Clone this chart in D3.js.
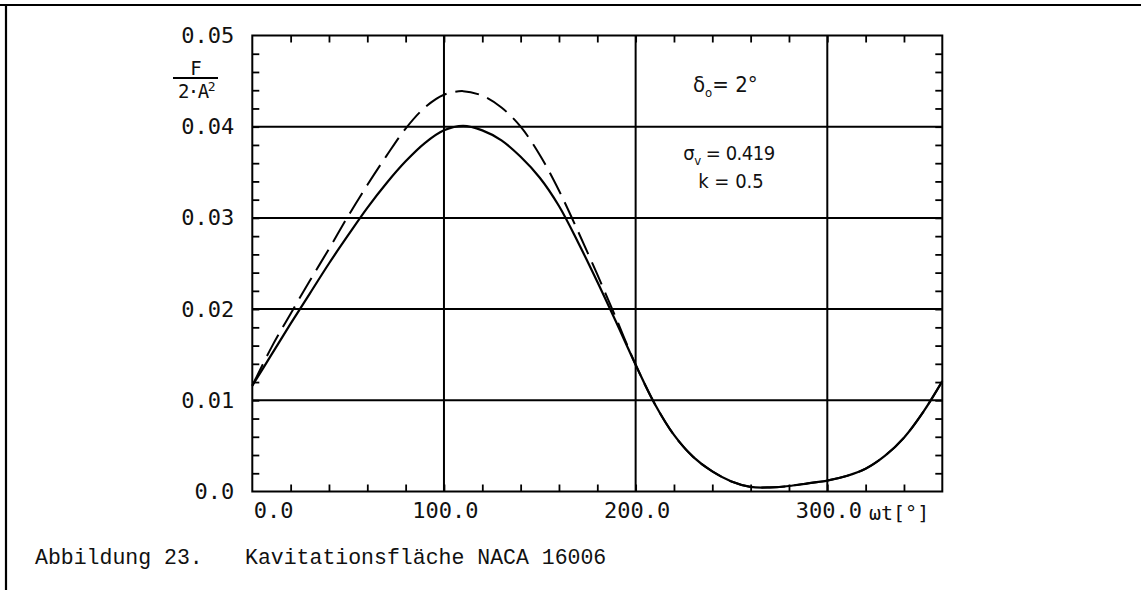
<!DOCTYPE html>
<html>
<head>
<meta charset="utf-8">
<script src="https://cdn.jsdelivr.net/npm/d3@7"></script>
<style>
  body { margin: 0; background: #fff; }
  svg { display: block; }
</style>
</head>
<body>
<svg width="1141" height="590"></svg>
<script>
// values (omega t in degrees, F/(2A^2))
var angle = [0, 10, 20, 30, 40, 50, 60, 70, 80, 90, 100, 110, 120, 130, 140, 150, 160, 170, 180, 190, 200, 210, 220, 230, 240, 250, 260, 270, 280, 290, 300, 310, 320, 330, 340, 350, 360];
var solidF = [0.0116, 0.0150, 0.0184, 0.0217, 0.0250, 0.0281, 0.0311, 0.0338, 0.0362, 0.0382, 0.0396, 0.0401, 0.0396, 0.0385, 0.0367, 0.0344, 0.0313, 0.0273, 0.0230, 0.0185, 0.0139, 0.0096, 0.0062, 0.0038, 0.0022, 0.0011, 0.0005, 0.00045, 0.0006, 0.0009, 0.0012, 0.0017, 0.0025, 0.0039, 0.0059, 0.0087, 0.0121];
var dashF = [0.0116, 0.0158, 0.0195, 0.0231, 0.0266, 0.0302, 0.0336, 0.0368, 0.0398, 0.0421, 0.0435, 0.0439, 0.0434, 0.0421, 0.0400, 0.0369, 0.0330, 0.0285, 0.0238, 0.0189, 0.0139, 0.0096, 0.0062, 0.0038, 0.0022, 0.0011, 0.0005, 0.00045, 0.0006, 0.0009, 0.0012, 0.0017, 0.0025, 0.0039, 0.0059, 0.0087, 0.0121];

var xTicks = [0, 100, 200, 300];
var xTickLabels = ["0.0", "100.0", "200.0", "300.0"];
var yTicks = [0, 0.01, 0.02, 0.03, 0.04, 0.05];
var yTickLabels = ["0.0", "0.01", "0.02", "0.03", "0.04", "0.05"];

(function () {
  var svg = d3.select("svg");
  var mono = "'DejaVu Sans Mono', monospace";
  var narrow = "'DejaVu Sans Condensed', 'Liberation Sans Narrow', 'DejaVu Sans', sans-serif";

  var pLeft = 252.3, pRight = 942.3, pTop = 35.5, pBottom = 491.5;

  var x = d3.scaleLinear().domain([0, 360]).range([pLeft, pRight]);
  var y = d3.scaleLinear().domain([0, 0.05]).range([pBottom, pTop]);

  // page frame
  svg.append("line").attr("x1", 0).attr("x2", 1141).attr("y1", 5).attr("y2", 5)
    .attr("stroke", "#000").attr("stroke-width", 2.2);
  svg.append("line").attr("x1", 6).attr("x2", 6).attr("y1", 4).attr("y2", 590)
    .attr("stroke", "#000").attr("stroke-width", 2.2);

  // grid
  var grid = svg.append("g").attr("stroke", "#000").attr("stroke-width", 2);
  grid.selectAll(".gy").data(yTicks.slice(1, -1)).enter().append("line")
    .attr("x1", pLeft).attr("x2", pRight)
    .attr("y1", function (d) { return y(d); }).attr("y2", function (d) { return y(d); });
  grid.selectAll(".gx").data(xTicks.slice(1)).enter().append("line")
    .attr("y1", pTop).attr("y2", pBottom)
    .attr("x1", function (d) { return x(d); }).attr("x2", function (d) { return x(d); });

  // minor ticks on all four sides, pointing inward
  var xMinor = d3.range(20, 360, 20);
  var yMinor = d3.range(1, 25).map(function (i) { return i * 0.002; });

  function tickOnly(axis, tr) {
    var g = svg.append("g").attr("transform", tr).call(axis);
    g.select(".domain").remove();
    g.selectAll("text").remove();
    g.selectAll("line").attr("stroke", "#000").attr("stroke-width", 1.8);
  }
  tickOnly(d3.axisBottom(x).tickValues(xMinor).tickSize(-7), "translate(0," + pBottom + ")");
  tickOnly(d3.axisTop(x).tickValues(xMinor).tickSize(-7), "translate(0," + pTop + ")");
  tickOnly(d3.axisLeft(y).tickValues(yMinor).tickSize(-7), "translate(" + pLeft + ",0)");
  tickOnly(d3.axisRight(y).tickValues(yMinor).tickSize(-7), "translate(" + pRight + ",0)");

  // frame of the plot
  svg.append("rect").attr("x", pLeft).attr("y", pTop)
    .attr("width", pRight - pLeft).attr("height", pBottom - pTop)
    .attr("fill", "none").attr("stroke", "#000").attr("stroke-width", 2);

  // tick labels
  var yAx = svg.append("g").attr("transform", "translate(" + pLeft + ",0)")
    .call(d3.axisLeft(y).tickValues(yTicks).tickSize(0).tickPadding(18)
      .tickFormat(function (d, i) { return yTickLabels[i]; }));
  yAx.select(".domain").remove();
  yAx.selectAll("text").attr("font-family", mono).attr("font-size", 22).attr("fill", "#111");

  var xAx = svg.append("g").attr("transform", "translate(0," + pBottom + ")")
    .call(d3.axisBottom(x).tickValues(xTicks).tickSize(0).tickPadding(11)
      .tickFormat(function (d, i) { return xTickLabels[i]; }));
  xAx.select(".domain").remove();
  xAx.selectAll("text").attr("font-family", mono).attr("font-size", 22).attr("fill", "#111");
  xAx.selectAll("text").filter(function (d) { return d === 0; })
    .attr("text-anchor", "start").attr("x", 1);
  xAx.selectAll("text").filter(function (d) { return d !== 0; }).attr("x", 1);

  svg.append("text").attr("x", 869).attr("y", 520)
    .attr("font-family", mono).attr("font-size", 20).attr("fill", "#111")
    .text("ωt[°]");

  // y axis quantity  F / (2·A²)
  svg.append("text").attr("x", 196).attr("y", 75).attr("text-anchor", "middle")
    .attr("font-family", mono).attr("font-size", 19).attr("fill", "#111").text("F");
  svg.append("line").attr("x1", 173).attr("x2", 218).attr("y1", 78).attr("y2", 78)
    .attr("stroke", "#000").attr("stroke-width", 1.8);
  var den = svg.append("text").attr("x", 196).attr("y", 98).attr("text-anchor", "middle")
    .attr("font-family", mono).attr("font-size", 19).attr("fill", "#111")
    .attr("letter-spacing", -1.5);
  den.append("tspan").text("2·A");
  den.append("tspan").attr("font-size", 13).attr("dy", -7).text("2");

  // curves
  var line = d3.line()
    .x(function (d) { return x(d[0]); })
    .y(function (d) { return y(d[1]); })
    .curve(d3.curveCatmullRom.alpha(0.5));

  svg.append("path")
    .datum(d3.zip(angle, dashF))
    .attr("d", line)
    .attr("fill", "none").attr("stroke", "#000").attr("stroke-width", 2)
    .attr("stroke-dasharray", "24,9");

  svg.append("path")
    .datum(d3.zip(angle, solidF))
    .attr("d", line)
    .attr("fill", "none").attr("stroke", "#000").attr("stroke-width", 2.2);

  // annotations
  var a1 = svg.append("text").attr("x", 693).attr("y", 92)
    .attr("font-family", narrow).attr("font-size", 22).attr("fill", "#111");
  a1.append("tspan").text("δ");
  a1.append("tspan").attr("font-size", 13).attr("dy", 5).text("o");
  a1.append("tspan").attr("dy", -5).text("= 2°");

  var a2 = svg.append("text").attr("x", 729).attr("y", 160).attr("text-anchor", "middle")
    .attr("font-family", narrow).attr("font-size", 20).attr("fill", "#111")
    .attr("letter-spacing", -0.5);
  a2.append("tspan").text("σ");
  a2.append("tspan").attr("font-size", 13).attr("dy", 5).text("v");
  a2.append("tspan").attr("dy", -5).text(" = 0.419");

  svg.append("text").attr("x", 731).attr("y", 188).attr("text-anchor", "middle")
    .attr("font-family", narrow).attr("font-size", 20).attr("fill", "#111")
    .text("k = 0.5");

  // caption
  var cap = "'Liberation Mono', 'DejaVu Sans Mono', monospace";
  svg.append("text").attr("x", 35).attr("y", 564)
    .attr("font-family", cap).attr("font-size", 21.5).attr("fill", "#111")
    .text("Abbildung 23.");
  svg.append("text").attr("x", 245).attr("y", 564)
    .attr("font-family", cap).attr("font-size", 21.5).attr("fill", "#111")
    .text("Kavitationsfläche NACA 16006");
})();
</script>
</body>
</html>
